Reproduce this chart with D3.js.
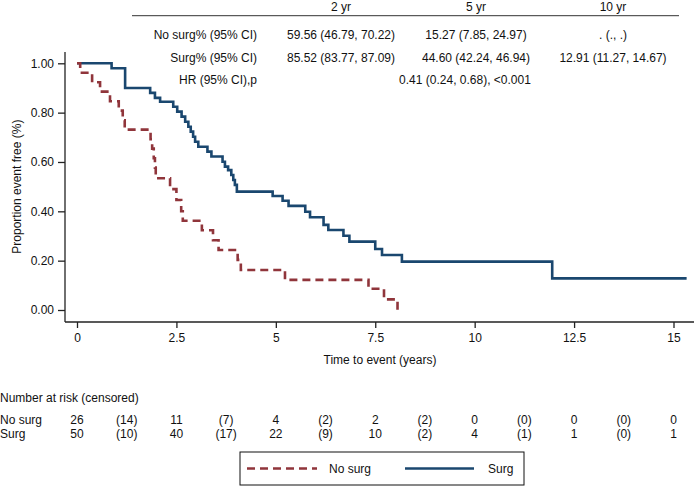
<!DOCTYPE html>
<html>
<head>
<meta charset="utf-8">
<script src="https://cdn.jsdelivr.net/npm/d3@7"></script>
<style>
  html, body { margin: 0; padding: 0; background: #fff; }
  svg { display: block; font-family: "Liberation Sans", Arial, Helvetica, sans-serif; }
</style>
</head>
<body>
<svg id="chart" width="698" height="487"></svg>
<script>
// ---------------- DATA ----------------
const xTicks = [0, 2.5, 5, 7.5, 10, 12.5, 15];
const yTicks = [0, 0.2, 0.4, 0.6, 0.8, 1.0];

// Kaplan-Meier step points (time in years, survival proportion)
const surgTimes = [0, 0.87, 1.21, 1.84, 1.96, 2.09, 2.42, 2.52, 2.63, 2.72, 2.80, 2.86, 2.92, 2.97, 3.05, 3.28, 3.38, 3.66, 3.72, 3.80, 3.88, 3.93, 3.97, 4.02, 4.92, 5.17, 5.32, 5.74, 5.86, 6.20, 6.32, 6.70, 6.85, 7.50, 7.67, 8.17, 11.95];
const surgSurv  = [1.0, 0.98, 0.90, 0.88, 0.86, 0.844, 0.824, 0.804, 0.784, 0.763, 0.743, 0.723, 0.702, 0.682, 0.662, 0.642, 0.622, 0.601, 0.581, 0.567, 0.547, 0.527, 0.507, 0.48, 0.462, 0.443, 0.422, 0.398, 0.376, 0.345, 0.324, 0.301, 0.277, 0.247, 0.223, 0.196, 0.128];
const surgEnd = 15.33;

const noSurgTimes = [0, 0.08, 0.38, 0.58, 0.83, 1.05, 1.15, 1.20, 1.85, 1.89, 1.93, 1.96, 1.98, 2.34, 2.50, 2.62, 2.66, 3.14, 3.42, 3.56, 4.04, 4.12, 5.23, 7.33, 7.72, 8.06];
const noSurgSurv  = [1.0, 0.962, 0.923, 0.885, 0.846, 0.808, 0.769, 0.731, 0.692, 0.654, 0.615, 0.577, 0.534, 0.49, 0.446, 0.40, 0.362, 0.323, 0.283, 0.243, 0.203, 0.162, 0.122, 0.086, 0.043, 0.0];
const noSurgEnd = 8.08;

// Number-at-risk table
const riskTimes = [0, 1.25, 2.5, 3.75, 5, 6.25, 7.5, 8.75, 10, 11.25, 12.5, 13.75, 15];
const noSurgRisk = ["26", "(14)", "11", "(7)", "4", "(2)", "2", "(2)", "0", "(0)", "0", "(0)", "0"];
const surgRisk   = ["50", "(10)", "40", "(17)", "22", "(9)", "10", "(2)", "4", "(1)", "1", "(0)", "1"];

// Estimates table
const tableHeaders = ["2 yr", "5 yr", "10 yr"];
const rowLabels = ["No surg% (95% CI)", "Surg% (95% CI)", "HR (95% CI),p"];
const noSurgEst = ["59.56 (46.79, 70.22)", "15.27 (7.85, 24.97)", ". (., .)"];
const surgEst   = ["85.52 (83.77, 87.09)", "44.60 (42.24, 46.94)", "12.91 (11.27, 14.67)"];
const hrText = "0.41 (0.24, 0.68), <0.001";

const groupNames = ["No surg", "Surg"];

// ---------------- STYLE / LAYOUT ----------------
const navy = "#1a476f";
const maroon = "#90353b";
const axisColor = "#222";
const fs = 12;

const svg = d3.select("#chart");
const x = d3.scaleLinear().domain([0, 15]).range([77, 673.5]);
const y = d3.scaleLinear().domain([0, 1]).range([310, 63.3]);

const axisX0 = 65, axisY0 = 322;

// Axes lines
svg.append("line").attr("x1", axisX0).attr("x2", axisX0).attr("y1", 52).attr("y2", axisY0)
  .attr("stroke", axisColor).attr("stroke-width", 1.3);
svg.append("line").attr("x1", axisX0).attr("x2", 694).attr("y1", axisY0).attr("y2", axisY0)
  .attr("stroke", axisColor).attr("stroke-width", 1.3);

// Y axis
const yAxis = d3.axisLeft(y).tickValues(yTicks).tickFormat(d3.format(".2f")).tickSize(7).tickPadding(4).tickSizeOuter(0);
const gy = svg.append("g").attr("transform", `translate(${axisX0},0)`).call(yAxis);
gy.select(".domain").remove();
gy.selectAll("line").attr("stroke", axisColor).attr("stroke-width", 1.3);
gy.selectAll("text").attr("font-size", fs).attr("fill", "#111").style("font-family", "inherit");

// X axis
const xAxis = d3.axisBottom(x).tickValues(xTicks).tickFormat(d => String(d)).tickSize(6).tickPadding(5).tickSizeOuter(0);
const gx = svg.append("g").attr("transform", `translate(0,${axisY0})`).call(xAxis);
gx.select(".domain").remove();
gx.selectAll("line").attr("stroke", axisColor).attr("stroke-width", 1.3);
gx.selectAll("text").attr("font-size", fs).attr("fill", "#111").style("font-family", "inherit");

// Axis titles
svg.append("text").attr("transform", `translate(17,${(63.3 + 310) / 2}) rotate(-90)`)
  .attr("text-anchor", "middle").attr("dominant-baseline", "central").attr("font-size", fs).attr("fill", "#111")
  .text("Proportion event free (%)");
svg.append("text").attr("x", 380).attr("y", 360).attr("text-anchor", "middle").attr("dominant-baseline", "central")
  .attr("font-size", fs).attr("fill", "#111").text("Time to event (years)");

// Curves
function stepData(times, surv, end) {
  const pts = times.map((t, i) => [t, surv[i]]);
  pts.push([end, surv[surv.length - 1]]);
  return pts;
}
const line = d3.line().x(d => x(d[0])).y(d => y(d[1])).curve(d3.curveStepAfter);

svg.append("path").datum(stepData(surgTimes, surgSurv, surgEnd))
  .attr("d", line).attr("fill", "none").attr("stroke", navy).attr("stroke-width", 2.6);
svg.append("path").datum(stepData(noSurgTimes, noSurgSurv, noSurgEnd))
  .attr("d", line).attr("fill", "none").attr("stroke", maroon).attr("stroke-width", 2.6)
  .attr("stroke-dasharray", "8,5");

// Estimates table
const colX = [341, 476, 613];
const rowY = [35, 57.5, 80];
const headerY = 7;
svg.append("line").attr("x1", 132).attr("x2", 679).attr("y1", 15.7).attr("y2", 15.7)
  .attr("stroke", "#333").attr("stroke-width", 1);
tableHeaders.forEach((h, i) => {
  svg.append("text").attr("x", colX[i]).attr("y", headerY).attr("text-anchor", "middle")
    .attr("dominant-baseline", "central").attr("font-size", fs).attr("fill", "#111").text(h);
});
rowLabels.forEach((r, i) => {
  svg.append("text").attr("x", 257).attr("y", rowY[i]).attr("text-anchor", "end")
    .attr("dominant-baseline", "central").attr("font-size", fs).attr("fill", "#111").text(r);
});
noSurgEst.forEach((v, i) => {
  svg.append("text").attr("x", colX[i]).attr("y", rowY[0]).attr("text-anchor", "middle")
    .attr("dominant-baseline", "central").attr("font-size", fs).attr("fill", "#111").text(v);
});
surgEst.forEach((v, i) => {
  svg.append("text").attr("x", colX[i]).attr("y", rowY[1]).attr("text-anchor", "middle")
    .attr("dominant-baseline", "central").attr("font-size", fs).attr("fill", "#111").text(v);
});
svg.append("text").attr("x", 465).attr("y", rowY[2]).attr("text-anchor", "middle")
  .attr("dominant-baseline", "central").attr("font-size", fs).attr("fill", "#111").text(hrText);

// Number at risk
svg.append("text").attr("x", 0).attr("y", 398).attr("dominant-baseline", "central")
  .attr("font-size", fs).attr("fill", "#111").text("Number at risk (censored)");
[[noSurgRisk, 420], [surgRisk, 434]].forEach(([vals, yy], gi) => {
  svg.append("text").attr("x", 0).attr("y", yy).attr("dominant-baseline", "central")
    .attr("font-size", fs).attr("fill", "#111").text(groupNames[gi]);
  vals.forEach((v, i) => {
    svg.append("text").attr("x", x(riskTimes[i])).attr("y", yy).attr("text-anchor", "middle")
      .attr("dominant-baseline", "central").attr("font-size", fs).attr("fill", "#111").text(v);
  });
});

// Legend
const lg = svg.append("g");
lg.append("rect").attr("x", 240).attr("y", 452).attr("width", 284).attr("height", 33)
  .attr("fill", "#fff").attr("stroke", "#111").attr("stroke-width", 1);
lg.append("line").attr("x1", 247).attr("x2", 317).attr("y1", 468.5).attr("y2", 468.5)
  .attr("stroke", maroon).attr("stroke-width", 2.6).attr("stroke-dasharray", "8,5");
lg.append("text").attr("x", 329).attr("y", 468.5).attr("dominant-baseline", "central")
  .attr("font-size", fs).attr("fill", "#111").text(groupNames[0]);
lg.append("line").attr("x1", 405).attr("x2", 474).attr("y1", 468.5).attr("y2", 468.5)
  .attr("stroke", navy).attr("stroke-width", 2.6);
lg.append("text").attr("x", 488).attr("y", 468.5).attr("dominant-baseline", "central")
  .attr("font-size", fs).attr("fill", "#111").text(groupNames[1]);
</script>
</body>
</html>
